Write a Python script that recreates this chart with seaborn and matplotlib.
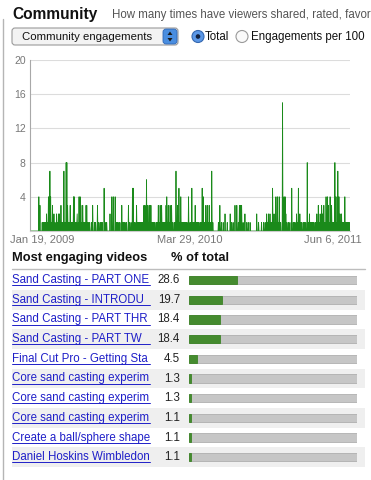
import matplotlib
matplotlib.use("Agg")
import matplotlib.pyplot as plt
from matplotlib.patches import FancyBboxPatch, Rectangle, Circle, Polygon
import seaborn as sns
import numpy as np
import pandas as pd

sns.set_style("white")
plt.rcParams["font.family"] = ["Liberation Sans", "DejaVu Sans"]

# =====================================================
# DATA
# =====================================================
START, END = "2009-01-19", "2011-06-06"

# days after START with more than one engagement
spike_days = [24, 27, 36, 45, 50, 54, 56, 61, 65, 68, 72, 77, 80, 84, 92, 98, 100, 102,
              106, 109, 113, 118, 120, 125, 128, 133, 136, 138, 143, 146, 152, 154, 158,
              170, 175, 183, 190, 193, 201, 208, 217, 222, 226, 231, 237, 241, 249, 258,
              262, 267, 278, 280, 285, 289, 297, 300, 306, 309, 312, 316, 319, 323, 326,
              328, 333, 339, 348, 353, 357, 369, 371, 375, 380, 384, 396, 400, 404, 409,
              414, 418, 423, 430, 434, 439, 445, 448, 457, 461, 467, 470, 477, 481, 486,
              493, 511, 515, 524, 529, 543, 547, 556, 561, 568, 571, 574, 583, 588, 597,
              615, 628, 642, 647, 651, 658, 662, 667, 671, 676, 685, 689, 692, 694, 701,
              710, 714, 719, 723, 728, 732, 737, 741, 752, 758, 761, 769, 773, 778, 782,
              787, 791, 794, 797, 803, 807, 809, 814, 818, 827, 830, 835, 838, 841, 845,
              852, 854, 859, 864, 866]
spike_counts = [4, 3, 1, 2, 4, 7, 4, 3, 2, 1, 2, 2, 2, 3, 7, 8, 8, 3,
                1, 3, 1, 4, 4, 1, 2, 4, 4, 3, 3, 1, 3, 3, 1,
                3, 1, 3, 1, 1, 5, 1, 2, 4, 4, 4, 1, 1, 3, 1,
                1, 3, 5, 5, 1, 3, 1, 1, 1, 3, 3, 6, 3, 3, 3,
                3, 1, 1, 3, 3, 3, 3, 4, 3, 3, 3, 7, 3, 5, 4,
                1, 1, 1, 4, 1, 5, 1, 3, 1, 1, 5, 4, 3, 3, 3,
                7, 1, 3, 1, 2, 2, 1, 3, 3, 3, 3, 3, 2, 1, 1,
                2, 1, 2, 2, 2, 5, 2, 4, 4, 4, 15, 4, 4, 2, 1,
                5, 1, 1, 2, 5, 2, 1, 1, 8, 2, 1, 1, 1, 2, 3,
                2, 3, 2, 3, 4, 4, 3, 4, 3, 8, 4, 7, 4, 2, 2,
                1, 4, 1, 1, 1]
# days with a single engagement
single_days = [33, 39, 42, 47, 52, 58, 63, 75, 82, 87, 90, 95, 104, 107, 111, 115, 122,
               127, 131, 140, 149, 156, 162, 167, 178, 186, 196, 204, 234, 244, 252, 255,
               270, 274, 283, 292, 294, 303, 314, 321, 331, 336, 343, 346, 351, 360, 363,
               366, 373, 378, 382, 387, 391, 394, 398, 407, 411, 416, 420, 426, 437, 442,
               451, 454, 464, 473, 479, 484, 489, 496, 519, 535, 551, 565, 578, 592, 620,
               634, 638, 644, 653, 656, 660, 664, 669, 674, 680, 697, 705, 716, 726, 735,
               744, 748, 756, 764, 766, 776, 780, 785, 789, 792, 800, 805, 812, 816, 821,
               824, 833, 843, 848, 850, 857, 862]

y_ticks = [4, 8, 12, 16, 20]
x_labels = ["Jan 19, 2009", "Mar 29, 2010", "Jun 6, 2011"]

# titles as far as the narrow column shows them
videos = ["Sand Casting - PART ONE", "Sand Casting - INTRODU",
          "Sand Casting - PART THR", "Sand Casting - PART TW",
          "Final Cut Pro - Getting Sta", "Core sand casting experim",
          "Core sand casting experim", "Core sand casting experim",
          "Create a ball/sphere shape", "Daniel Hoskins Wimbledon"]
pct_total = [28.6, 19.7, 18.4, 18.4, 4.5, 1.3, 1.3, 1.1, 1.1, 1.1]

dates = pd.date_range(START, END, freq="D")
counts = np.zeros(len(dates), dtype=int)
counts[single_days] = 1
counts[spike_days] = spike_counts
daily = pd.DataFrame({"date": dates, "engagements": counts})

table = pd.DataFrame({"rank": [str(i + 1) for i in range(len(videos))],
                      "video": videos, "pct": pct_total, "track": 100.0})

# =====================================================
# FIGURE (pixel helpers)
# =====================================================
W, H = 371, 480
GREEN = "#1a8a1a"
LINK = "#1f1fc8"
fig = plt.figure(figsize=(W / 100, H / 100), dpi=100)

bg = fig.add_axes([0, 0, 1, 1])
bg.set_xlim(0, W)
bg.set_ylim(H, 0)
bg.axis("off")

# left page border
bg.plot([3, 3], [19, H], color="#b5b5b5", lw=1)

# header
bg.text(12, 14, "Community", fontsize=11.2, weight="bold", va="center", color="#111")
bg.text(112, 15, "How many times have viewers shared, rated, favor",
        fontsize=8.3, va="center", color="#555")

# dropdown
bg.add_patch(FancyBboxPatch((12, 28), 166, 17, boxstyle="round,pad=0,rounding_size=3",
                            fc="#f3f3f3", ec="#9a9a9a", lw=0.8))
bg.add_patch(FancyBboxPatch((163, 29), 14, 15, boxstyle="round,pad=0,rounding_size=3",
                            fc="#4a8ee0", ec="#2f66b5", lw=0.6))
bg.add_patch(Polygon([[167.5, 35], [172.5, 35], [170, 31.5]], fc="#1a1a1a", lw=0))
bg.add_patch(Polygon([[167.5, 38], [172.5, 38], [170, 41.5]], fc="#1a1a1a", lw=0))
bg.text(22, 36.8, "Community engagements", fontsize=8.2, va="center", color="#111")

# radio buttons
bg.add_patch(Circle((198, 36.5), 6, fc="#5b97e6", ec="#3568b0", lw=0.8))
bg.add_patch(Circle((198, 36.5), 2.3, fc="#10203f", lw=0))
bg.text(205, 36.8, "Total", fontsize=8.3, va="center", color="#111")
bg.add_patch(Circle((242, 36.5), 6, fc="#fafafa", ec="#9a9a9a", lw=0.8))
bg.text(251, 36.8, "Engagements per 100", fontsize=8.3, va="center", color="#111")

# =====================================================
# ENGAGEMENT CHART
# =====================================================
ax = fig.add_axes([30 / W, 1 - 231 / H, 320 / W, 171 / H])
ax.patch.set_alpha(0)
ax.yaxis.grid(True, color="#dcdcdc", lw=0.8)
ax.set_axisbelow(True)
ax.fill_between(daily["date"], daily["engagements"], color=GREEN, alpha=0.25, lw=0)
sns.lineplot(data=daily, x="date", y="engagements", ax=ax, color=GREEN, lw=0.6)
ax.set_xlim(dates[0], dates[-1])
ax.set_ylim(0, 20)
ax.set_yticks(y_ticks)
ax.set_xticks([])
ax.set_xlabel("")
ax.set_ylabel("")
ax.tick_params(axis="y", length=0, labelsize=7.5, labelcolor="#777", pad=3)
for s in ["top", "right"]:
    ax.spines[s].set_visible(False)
ax.spines["left"].set_color("#a8a8a8")
ax.spines["left"].set_linewidth(0.8)
ax.spines["bottom"].set_color("#cccccc")
ax.spines["bottom"].set_linewidth(0.8)

bg.text(42.5, 240, x_labels[0], ha="center", va="center", fontsize=8, color="#777")
bg.text(190, 240, x_labels[1], ha="center", va="center", fontsize=8, color="#777")
bg.text(362, 240, x_labels[2], ha="right", va="center", fontsize=8, color="#777")

# =====================================================
# MOST ENGAGING VIDEOS TABLE
# =====================================================
bg.text(12, 258, "Most engaging videos", fontsize=9.3, weight="bold", va="center", color="#111")
bg.text(171, 258, "% of total", fontsize=9.3, weight="bold", va="center", color="#111")
bg.plot([12, 365], [269, 269], color="#bdbdbd", lw=1)

ROW0, ROWH = 280, 19.7
for i, row in table.iterrows():
    yc = ROW0 + i * ROWH
    if i % 2 == 1:
        bg.add_patch(Rectangle((12, yc - ROWH / 2), 353, ROWH, fc="#efefef", lw=0))
    bg.text(12, yc, row["video"], fontsize=8.3, va="center", color=LINK)
    bg.plot([12, 150], [yc + 5.2, yc + 5.2], color=LINK, lw=0.7)
    bg.text(180, yc, f"{row['pct']:.1f}", fontsize=8.3, ha="right", va="center", color="#222")

top = ROW0 - ROWH / 2
tax = fig.add_axes([189 / W, 1 - (top + 10 * ROWH) / H, 168 / W, 10 * ROWH / H])
tax.patch.set_alpha(0)
sns.barplot(data=table, x="track", y="rank", orient="h", ax=tax, color="#c6c6c6",
            width=0.42, edgecolor="#a5a5a5", linewidth=0.5)
sns.barplot(data=table, x="pct", y="rank", orient="h", ax=tax, color="#3d9b1f",
            width=0.42, edgecolor="#2e7d16", linewidth=0.5)
tax.set_xlim(0, 100)
tax.set_ylim(9.5, -0.5)
tax.axis("off")

plt.savefig("out.png", dpi=100)
